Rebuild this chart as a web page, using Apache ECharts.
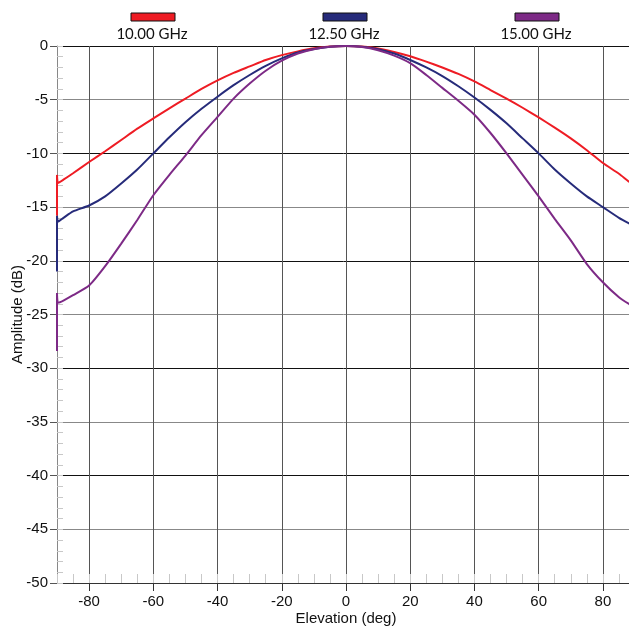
<!DOCTYPE html>
<html><head><meta charset="utf-8">
<script src="https://cdn.jsdelivr.net/npm/echarts@6/dist/echarts.min.js"></script>
<style>html,body{margin:0;padding:0;background:#fff}#c{width:629px;height:627px}</style>
</head><body><div id="c"></div>
<script>
const angles = [-90, -90, -89.7, -88, -85, -80, -75, -70, -65, -60, -55, -50, -45, -40, -35, -30, -25, -20, -15, -10, -5, 0, 5, 10, 15, 20, 25, 30, 35, 40, 45, 50, 55, 60, 65, 70, 75, 80, 85, 88, 90];
const amp10 = [-15.8, -12.0, -12.75, -12.45, -11.85, -10.8, -9.8, -8.75, -7.7, -6.74, -5.8, -4.9, -4.0, -3.2, -2.5, -1.9, -1.3, -0.85, -0.5, -0.22, -0.05, 0, -0.05, -0.22, -0.55, -0.95, -1.45, -2.0, -2.6, -3.3, -4.1, -4.9, -5.75, -6.65, -7.6, -8.6, -9.7, -10.9, -11.9, -12.6, -13.0];
const amp125 = [-21.0, -15.8, -16.35, -16.0, -15.4, -14.85, -14.0, -12.8, -11.5, -10.0, -8.5, -7.1, -5.85, -4.72, -3.65, -2.7, -1.85, -1.15, -0.6, -0.28, -0.07, 0, -0.07, -0.3, -0.7, -1.3, -2.0, -2.8, -3.75, -4.8, -5.95, -7.2, -8.6, -10.0, -11.5, -12.8, -14.0, -15.0, -16.0, -16.5, -16.8];
const amp15 = [-28.4, -23.0, -23.9, -23.7, -23.2, -22.3, -20.5, -18.4, -16.2, -13.9, -12.0, -10.2, -8.3, -6.6, -4.9, -3.5, -2.3, -1.37, -0.7, -0.3, -0.08, 0, -0.1, -0.4, -0.9, -1.6, -2.7, -3.9, -5.1, -6.4, -8.1, -10.0, -12.0, -14.0, -16.1, -18.1, -20.3, -22.0, -23.4, -24.0, -24.3];
const seriesNames = ['10.00 GHz', '12.50 GHz', '15.00 GHz'];
const seriesColors = ['#ee1c24', '#262b7a', '#7d2a86'];
const xTickValues = [-80, -60, -40, -20, 0, 20, 40, 60, 80];

const allAmps = [amp10, amp125, amp15];
const font = "'Liberation Sans', Arial, sans-serif";
const legendCenters = [153, 345, 537];

const chart = echarts.init(document.getElementById('c'), null, {renderer: 'canvas'});
chart.setOption({
  animation: false,
  backgroundColor: '#fff',
  grid: {left: 57, right: -6, top: 46, bottom: 44, containLabel: false, outerBoundsMode: 'none'},
  xAxis: [{
    type: 'value', min: -90, max: 90,
    name: 'Elevation (deg)', nameLocation: 'middle', nameGap: 28, nameMoveOverlap: false,
    nameTextStyle: {fontFamily: font, fontSize: 15, color: '#111'},
    axisLine: {show: true, onZero: false, lineStyle: {color: '#333', width: 1}},
    axisTick: {show: true, customValues: xTickValues, length: 8, lineStyle: {color: '#333'}},
    axisLabel: {customValues: xTickValues, margin: 11, fontFamily: font, fontSize: 15, color: '#111'},
    splitLine: {show: true, lineStyle: {color: '#555', width: 1}}
  }, {
    type: 'value', min: -90, max: 90, interval: 5, position: 'bottom',
    axisLine: {show: false, onZero: false}, axisLabel: {show: false},
    axisTick: {show: true, inside: true, length: 9, lineStyle: {color: '#c8c8c8'}},
    splitLine: {show: false}
  }],
  yAxis: [{
    type: 'value', min: -50, max: 0, interval: 5,
    name: 'Amplitude (dB)', nameLocation: 'middle', nameGap: 32, nameMoveOverlap: false,
    nameTextStyle: {fontFamily: font, fontSize: 15, color: '#111'},
    axisLine: {show: true, onZero: false, lineStyle: {color: '#888', width: 1}},
    axisTick: {show: true, length: 7, lineStyle: {color: '#555'}},
    axisLabel: {margin: 9, fontFamily: font, fontSize: 15, color: '#111'},
    splitLine: {show: true, lineStyle: {color: ['#111', '#888'], width: 1}}
  }, {
    type: 'value', min: -50, max: 0, interval: 1, position: 'left',
    axisLine: {show: false, onZero: false}, axisLabel: {show: false},
    axisTick: {show: true, inside: true, length: 6, lineStyle: {color: '#c8c8c8'}},
    splitLine: {show: false}
  }],
  series: seriesNames.map((n, i) => ({
    name: n, type: 'line', xAxisIndex: 0, yAxisIndex: 0,
    showSymbol: false, symbol: 'none', smooth: 0.2,
    lineStyle: {color: seriesColors[i], width: 2},
    itemStyle: {color: seriesColors[i]},
    data: angles.map((a, k) => [a, allAmps[i][k]])
  })),
  graphic: seriesNames.map((n, i) => ({
    type: 'group', x: legendCenters[i] - 40, y: 12,
    children: [
      {type: 'rect', shape: {x: 18, y: 1, width: 44, height: 8}, style: {fill: seriesColors[i], stroke: '#111', lineWidth: 1}},
      {type: 'text', x: 39, y: 22, style: {text: n, fontFamily: "Lato, 'Open Sans', sans-serif", fontSize: 15, fill: '#111', textAlign: 'center', textVerticalAlign: 'middle'}}
    ]
  }))
});
</script>
</body></html>
